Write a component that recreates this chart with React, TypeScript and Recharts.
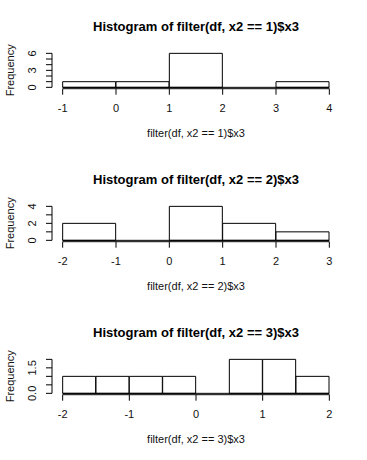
import React from "react";
import { BarChart, Bar, XAxis, YAxis, ReferenceLine } from "recharts";

// Panel 1: filter(df, x2 == 1)$x3
const edges1 = [-1, 0, 1, 2, 3, 4];
const counts1 = [1, 1, 6, 0, 1];
const xTicks1 = [-1, 0, 1, 2, 3, 4];
const yTicks1 = [0, 1, 2, 3, 4, 5, 6];
const yLabels1 = [0, 3, 6];

// Panel 2: filter(df, x2 == 2)$x3
const edges2 = [-2, -1, 0, 1, 2, 3];
const counts2 = [2, 0, 4, 2, 1];
const xTicks2 = [-2, -1, 0, 1, 2, 3];
const yTicks2 = [0, 1, 2, 3, 4];
const yLabels2 = [0, 2, 4];

// Panel 3: filter(df, x2 == 3)$x3
const edges3 = [-2, -1.5, -1, -0.5, 0, 0.5, 1, 1.5, 2];
const counts3 = [1, 1, 1, 1, 0, 2, 2, 1];
const xTicks3 = [-2, -1, 0, 1, 2];
const yTicks3 = [0, 0.5, 1, 1.5, 2];
const yLabels3 = [0, 1.5];

const titles = [
  "Histogram of filter(df, x2 == 1)$x3",
  "Histogram of filter(df, x2 == 2)$x3",
  "Histogram of filter(df, x2 == 3)$x3",
];
const xTitles = [
  "filter(df, x2 == 1)$x3",
  "filter(df, x2 == 2)$x3",
  "filter(df, x2 == 3)$x3",
];

const FONT = '"Liberation Sans", Arial, Helvetica, sans-serif';
const W = 367;
const H = 153;
const PLOT_LEFT = 52;
const PLOT_RIGHT = 340;
const PLOT_TOP = 52;
const PLOT_BOTTOM = 88.7;
const XAXIS_H = 30;

type PanelProps = {
  edges: number[];
  counts: number[];
  xTicks: number[];
  yTicks: number[];
  yLabels: number[];
  digits: number;
  title: string;
  xTitle: string;
  top: number;
};

function Panel({ edges, counts, xTicks, yTicks, yLabels, digits, title, xTitle, top }: PanelProps) {
  const data = counts.map((c, i) => ({
    bin: `${edges[i]}-${edges[i + 1]}`,
    mid: (edges[i] + edges[i + 1]) / 2,
    count: c,
  }));
  const lo = edges[0];
  const hi = edges[edges.length - 1];
  const range = hi - lo;
  const xDomain = [lo - 0.04 * range, hi + 0.04 * range];
  const yMax = Math.max(...counts);
  const yDomain = [-0.04 * yMax, yMax * 1.04];
  const plotW = PLOT_RIGHT - PLOT_LEFT;
  const pad = (plotW * 0.04) / 1.08;
  const yTop = yTicks[yTicks.length - 1];

  const yTick = (props: any) => {
    const { x, y, payload } = props;
    if (!yLabels.includes(payload.value)) return <g />;
    return (
      <text
        x={x}
        y={y}
        transform={`rotate(-90, ${x}, ${y})`}
        textAnchor="middle"
        fontSize={11}
        fontFamily={FONT}
        fill="#111"
      >
        {Number(payload.value).toFixed(digits)}
      </text>
    );
  };

  return (
    <div style={{ position: "absolute", left: 0, top, width: W, height: H }}>
      <BarChart
        width={W}
        height={H}
        data={data}
        barCategoryGap={0}
        margin={{ top: PLOT_TOP, right: W - PLOT_RIGHT, left: 0, bottom: H - PLOT_BOTTOM - XAXIS_H }}
      >
        <XAxis
          xAxisId="num"
          dataKey="mid"
          type="number"
          domain={xDomain}
          allowDataOverflow
          ticks={xTicks}
          height={XAXIS_H}
          axisLine={false}
          tickLine={{ stroke: "#000" }}
          tickSize={6}
          tickMargin={9}
          tick={{ fill: "#111", fontSize: 11, fontFamily: FONT }}
          interval={0}
        />
        <XAxis
          xAxisId="cat"
          dataKey="bin"
          type="category"
          hide
          height={0}
          padding={{ left: pad, right: pad }}
        />
        <YAxis
          type="number"
          domain={yDomain}
          allowDataOverflow
          ticks={yTicks}
          width={PLOT_LEFT}
          axisLine={false}
          tickLine={{ stroke: "#000" }}
          tickSize={6}
          tickMargin={10}
          tick={yTick}
          interval={0}
        />
        <Bar
          xAxisId="cat"
          dataKey="count"
          fill="#fff"
          stroke="#000"
          strokeWidth={1}
          isAnimationActive={false}
        />
        <ReferenceLine
          xAxisId="num"
          segment={[{ x: lo, y: 0 }, { x: hi, y: 0 }]}
          stroke="#000"
          strokeWidth={1}
          ifOverflow="visible"
        />
        <ReferenceLine
          xAxisId="num"
          segment={[{ x: lo, y: yDomain[0] }, { x: hi, y: yDomain[0] }]}
          stroke="#000"
          strokeWidth={1}
          ifOverflow="visible"
        />
        <ReferenceLine
          xAxisId="num"
          segment={[{ x: xDomain[0], y: 0 }, { x: xDomain[0], y: yTop }]}
          stroke="#000"
          strokeWidth={1}
          ifOverflow="visible"
        />
      </BarChart>
      <svg
        width={W}
        height={H}
        style={{ position: "absolute", left: 0, top: 0, pointerEvents: "none" }}
      >
        <text
          x={(PLOT_LEFT + PLOT_RIGHT) / 2}
          y={31}
          textAnchor="middle"
          fontSize={13}
          fontWeight="bold"
          fontFamily={FONT}
          fill="#000"
        >
          {title}
        </text>
        <text
          x={(PLOT_LEFT + PLOT_RIGHT) / 2}
          y={137}
          textAnchor="middle"
          fontSize={11}
          fontFamily={FONT}
          fill="#111"
        >
          {xTitle}
        </text>
        <text
          x={-(PLOT_TOP + PLOT_BOTTOM) / 2}
          y={13.5}
          transform="rotate(-90)"
          textAnchor="middle"
          fontSize={11}
          fontFamily={FONT}
          fill="#111"
        >
          Frequency
        </text>
      </svg>
    </div>
  );
}

export default function App() {
  return (
    <div style={{ position: "absolute", left: 0, top: 0, width: W, height: 460, background: "#fff" }}>
      <Panel edges={edges1} counts={counts1} xTicks={xTicks1} yTicks={yTicks1} yLabels={yLabels1} digits={0} title={titles[0]} xTitle={xTitles[0]} top={0} />
      <Panel edges={edges2} counts={counts2} xTicks={xTicks2} yTicks={yTicks2} yLabels={yLabels2} digits={0} title={titles[1]} xTitle={xTitles[1]} top={153} />
      <Panel edges={edges3} counts={counts3} xTicks={xTicks3} yTicks={yTicks3} yLabels={yLabels3} digits={1} title={titles[2]} xTitle={xTitles[2]} top={306} />
    </div>
  );
}
